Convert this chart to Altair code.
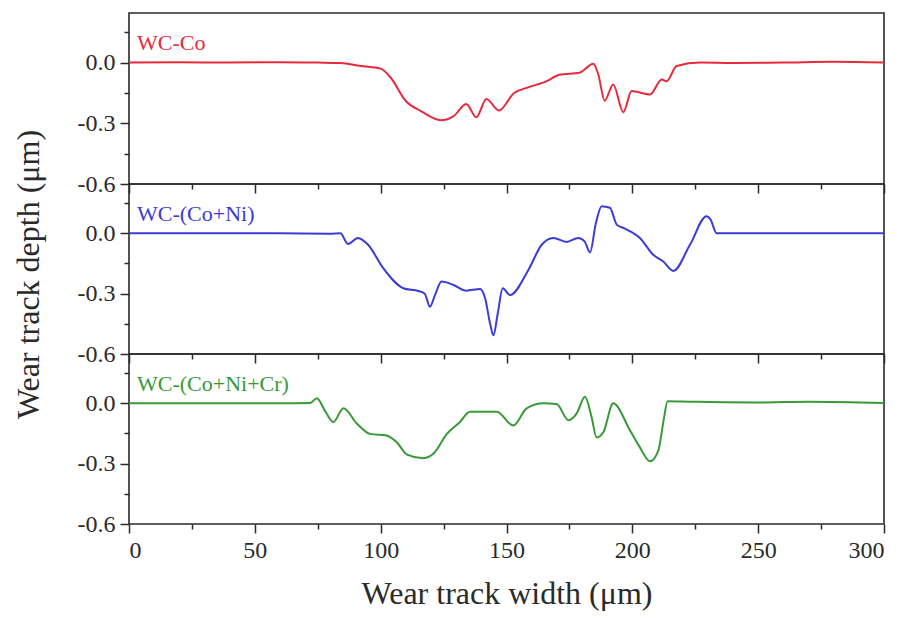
import altair as alt
import pandas as pd

# ---------------- data ----------------
X_CO = [0, 20, 40, 60, 75, 84, 92, 100, 104, 110, 116, 124, 129, 134, 138, 142, 147,
        153, 158, 166, 171, 179, 184.5, 186.5, 189, 192.4, 196.4, 199.7, 207, 211.7,
        213.6, 217.6, 227, 240, 260, 280, 300]
Y_CO = [0, 0.002, 0.0, 0.002, 0.0, -0.002, -0.017, -0.03, -0.075, -0.19, -0.24, -0.285,
        -0.265, -0.205, -0.27, -0.18, -0.237, -0.15, -0.125, -0.092, -0.06, -0.05,
        -0.006, -0.06, -0.188, -0.108, -0.245, -0.141, -0.158, -0.083, -0.092, -0.017,
        0.0, -0.002, 0.0, 0.004, 0.0]

X_NI = [0, 30, 60, 80, 84, 87, 91, 95, 101, 109, 115, 117.5, 119.6, 121.5, 124.2, 129,
        134, 139.5, 141.5, 143.5, 144.8, 146.5, 148.5, 151.4, 158.7, 164, 168.6, 173.9,
        178.5, 181, 183.2, 185.5, 187.8, 191.1, 193.8, 196.4, 203, 208.3, 212.3, 216.3,
        222.9, 229.5, 231, 233.5, 260, 300]
Y_NI = [0, 0, 0, -0.002, 0, -0.053, -0.023, -0.057, -0.173, -0.273, -0.287, -0.3,
        -0.365, -0.31, -0.24, -0.257, -0.285, -0.277, -0.323, -0.45, -0.507, -0.4,
        -0.273, -0.307, -0.182, -0.057, -0.023, -0.043, -0.023, -0.04, -0.095, 0.05,
        0.135, 0.127, 0.043, 0.027, -0.023, -0.107, -0.14, -0.187, -0.057, 0.085, 0.07,
        0.0, 0.0, 0.0]

X_CR = [0, 30, 60, 72, 74.6, 78, 81.2, 85.2, 90.5, 95.8, 102.4, 106.4, 110.5, 117, 121,
        126.3, 131.5, 135.5, 146.1, 152.7, 158, 164.6, 169.9, 174.6, 177.9, 181.2,
        183.8, 185.8, 188.5, 192.4, 199.1, 203, 207, 210.3, 212.5, 214, 223, 250, 270, 300]
Y_CR = [0, 0, 0, 0.002, 0.025, -0.04, -0.093, -0.025, -0.1, -0.152, -0.16, -0.194,
        -0.255, -0.273, -0.25, -0.152, -0.093, -0.042, -0.042, -0.11, -0.025, 0.0,
        -0.004, -0.084, -0.05, 0.032, -0.068, -0.17, -0.143, 0.0, -0.135, -0.219,
        -0.288, -0.236, -0.08, 0.01, 0.008, 0.004, 0.008, 0.002]

SERIES_LABELS = ["WC-Co", "WC-(Co+Ni)", "WC-(Co+Ni+Cr)"]
SERIES_COLORS = ["#e62a3c", "#3b3bd8", "#379a37"]

X_TICKS = list(range(0, 301, 25))
Y_TICKS = [-0.6, -0.45, -0.3, -0.15, 0.0, 0.15]
Y_MAJOR = [-60, -30, 0]
Y_LABELS = ["-0.6", "-0.3", "0.0"]

X_TITLE = "Wear track width (μm)"
Y_TITLE = "Wear track depth (μm)"

FONT = "Liberation Serif"
INK = "#2a2a2a"

# ---------------- chart ----------------
y_label_expr = ""
for v, lab in zip(Y_MAJOR, Y_LABELS):
    y_label_expr += f"round(datum.value*100) == {v} ? '{lab}' : "
y_label_expr += "''"

x_tick_size = {"condition": {"test": "datum.value % 50 == 0", "value": 9}, "value": 5}
y_tick_size = {"condition": {"test": "round(datum.value*100) % 30 == 0", "value": 9}, "value": 5}


def panel(xs, ys, label, color, height, bottom, middle):
    df = pd.DataFrame({"x": xs, "y": ys})
    x_axis = alt.Axis(
        values=X_TICKS, labels=bottom, labelExpr="datum.value % 50 == 0 ? datum.label : ''",
        grid=False, domain=False, tickSize=x_tick_size, labelPadding=5, titlePadding=16,
    )
    if middle:
        y_axis = alt.Axis(
            values=Y_TICKS, labelExpr=y_label_expr, grid=False, domain=False,
            tickSize=y_tick_size, labelPadding=5, titlePadding=32, titleY=90,
        )
    else:
        y_axis = alt.Axis(
            values=Y_TICKS, labelExpr=y_label_expr, grid=False, domain=False,
            tickSize=y_tick_size, labelPadding=5,
        )
    line = alt.Chart(df).mark_line(
        color=color, strokeWidth=2, interpolate="monotone"
    ).encode(
        x=alt.X("x:Q", scale=alt.Scale(domain=[0, 300], nice=False, zero=False),
                axis=x_axis, title=X_TITLE if bottom else None),
        y=alt.Y("y:Q", scale=alt.Scale(domain=[-0.6, 0.245], nice=False, zero=False),
                axis=y_axis, title=Y_TITLE if middle else None),
    )
    text = alt.Chart(pd.DataFrame({"t": [label]})).mark_text(
        align="left", baseline="alphabetic", font=FONT, fontSize=22, color=color
    ).encode(x=alt.value(8), y=alt.value(37), text="t:N")
    return alt.layer(line, text).properties(width=755, height=height)


p1 = panel(X_CO, Y_CO, SERIES_LABELS[0], SERIES_COLORS[0], 171, False, False)
p2 = panel(X_NI, Y_NI, SERIES_LABELS[1], SERIES_COLORS[1], 170, False, True)
p3 = panel(X_CR, Y_CR, SERIES_LABELS[2], SERIES_COLORS[2], 170, True, False)

chart = alt.vconcat(p1, p2, p3, spacing=0, bounds="flush").properties(
    padding={"left": 11, "top": 12, "right": 10, "bottom": 10},
    background="white",
).configure_view(
    stroke=INK, strokeWidth=1.6
).configure_axis(
    labelFont=FONT, labelFontSize=24, labelColor=INK,
    titleFont=FONT, titleFontSize=32, titleFontWeight="normal", titleColor=INK,
    tickColor=INK, tickWidth=1.5,
)

chart.save("out.html", embed_options={"renderer": "svg", "actions": False})
